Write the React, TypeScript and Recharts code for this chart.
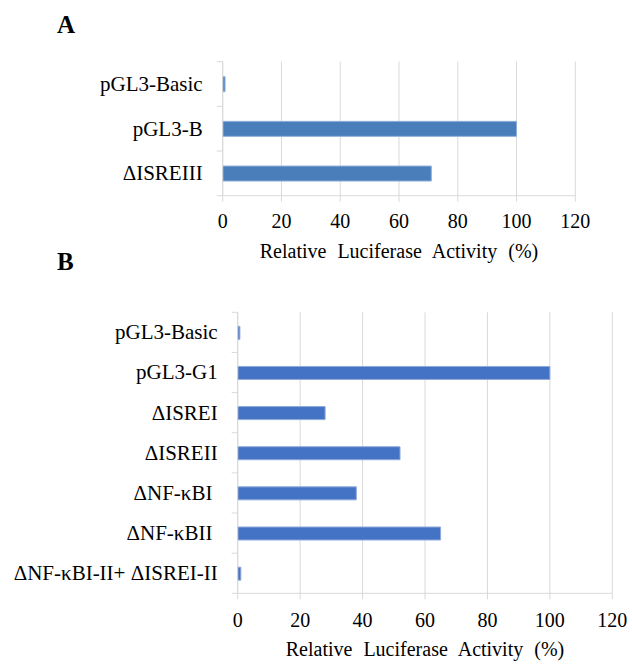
import { BarChart, Bar, XAxis, YAxis, CartesianGrid } from "recharts";

// Panel A
const constructsA = ["pGL3-Basic", "pGL3-B", "ΔISREIII"];
const activityA = [0.8, 100, 71];

// Panel B
const constructsB = [
  "pGL3-Basic",
  "pGL3-G1",
  "ΔISREI",
  "ΔISREII",
  "ΔNF-κBI\u00a0",
  "ΔNF-κBII\u00a0",
  "ΔNF-κBI-II+ ΔISREI-II",
];
const activityB = [0.7, 100, 28, 52, 38, 65, 1];

const xTicks = [0, 20, 40, 60, 80, 100, 120];
const axisTitle = "Relative Luciferase Activity (%)";

const FONT = "'Liberation Serif', 'Times New Roman', serif";
const GRID = "#d9d9d9";

const makeRows = (names: string[], vals: number[]) =>
  names.map((name, i) => ({ name, value: vals[i] }));

function CategoryTick(props: any) {
  const { x, y, payload, index, band, count } = props;
  return (
    <g>
      <text
        x={x - 20}
        y={y}
        dy="0.33em"
        textAnchor="end"
        fontSize={21}
        fontFamily={FONT}
        fill="#000"
      >
        {payload.value}
      </text>
      <line x1={x - 6} x2={x} y1={y - band / 2} y2={y - band / 2} stroke={GRID} />
      {index === count - 1 && (
        <line x1={x - 6} x2={x} y1={y + band / 2} y2={y + band / 2} stroke={GRID} />
      )}
    </g>
  );
}

function AxisTitle(props: any) {
  const vb = props.viewBox;
  return (
    <text
      x={vb.x + vb.width / 2}
      y={vb.y + 62.5}
      textAnchor="middle"
      fontSize={20}
      fontFamily={FONT}
      fill="#000"
      style={{ wordSpacing: 6 }}
    >
      {axisTitle}
    </text>
  );
}

interface PanelProps {
  names: string[];
  values: number[];
  width: number;
  height: number;
  margin: { top: number; right: number; bottom: number; left: number };
  color: string;
  border: string;
  barSize: number;
  tickMargin: number;
}

function Panel({ names, values, width, height, margin, color, border, barSize, tickMargin }: PanelProps) {
  const data = makeRows(names, values);
  const plotH = height - margin.top - margin.bottom - 70;
  const band = plotH / names.length;
  return (
    <BarChart layout="vertical" width={width} height={height} data={data} margin={margin}>
      <CartesianGrid horizontal={false} stroke={GRID} />
      <XAxis
        type="number"
        domain={[0, 120]}
        ticks={xTicks}
        height={70}
        stroke={GRID}
        tickSize={6}
        tickMargin={tickMargin}
        tick={{ fill: "#000", fontSize: 20, fontFamily: FONT }}
        label={<AxisTitle />}
      />
      <YAxis
        type="category"
        dataKey="name"
        width={200}
        stroke={GRID}
        tickSize={0}
        tickMargin={0}
        interval={0}
        tick={<CategoryTick band={band} count={names.length} />}
      />
      <Bar
        dataKey="value"
        fill={color}
        stroke={border}
        strokeWidth={1}
        barSize={barSize}
        isAnimationActive={false}
      />
    </BarChart>
  );
}

export default function App() {
  return (
    <div style={{ position: "absolute", left: 0, top: 0, width: 632, height: 664, background: "#fff" }}>
      <div style={{ position: "absolute", left: 0, top: 0 }}>
        <Panel
          names={constructsA}
          values={activityA}
          width={632}
          height={270}
          margin={{ top: 61.7, right: 56.7, bottom: 4.3, left: 22.7 }}
          color="#4a7ebb"
          border="#8fb0dc"
          barSize={15}
          tickMargin={12}
        />
      </div>
      <div style={{ position: "absolute", left: 0, top: 270 }}>
        <Panel
          names={constructsB}
          values={activityB}
          width={632}
          height={394}
          margin={{ top: 42.3, right: 19.7, bottom: 0.7, left: 37.7 }}
          color="#4472c4"
          border="#8eaadb"
          barSize={13}
          tickMargin={13}
        />
      </div>
      <svg width={632} height={664} style={{ position: "absolute", left: 0, top: 0, pointerEvents: "none" }}>
        <text x={57} y={33} fontSize={25} fontWeight="bold" fontFamily={FONT} fill="#000">
          A
        </text>
        <text x={57} y={270} fontSize={25} fontWeight="bold" fontFamily={FONT} fill="#000">
          B
        </text>
      </svg>
    </div>
  );
}
